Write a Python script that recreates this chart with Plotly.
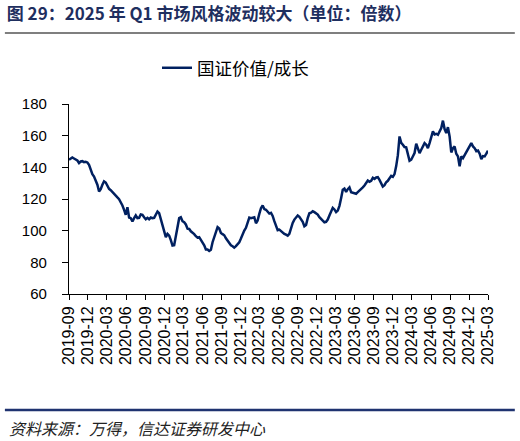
import pandas as pd
import plotly.graph_objects as go

# 国证价值/成长 比值，按图上读数，每 8 天一个点（2019-09-01 ~ 2025-03-01）
ratio = [
    144.8, 145.8, 146.2, 145.6, 145.0, 144.3, 142.7, 143.7, 143.9, 143.3,
    143.5, 143.1, 141.6, 138.4, 135.7, 134.2, 132.1, 129.0, 124.7, 126.2,
    129.0, 131.1, 130.4, 127.9, 126.4, 125.6, 124.3, 123.1, 122.0, 121.0,
    119.9, 118.2, 115.9, 113.1, 110.0, 114.8, 108.3, 107.9, 105.8, 107.9,
    109.6, 107.9, 108.1, 110.2, 110.0, 108.5, 107.2, 108.1, 107.2, 108.3,
    107.9, 108.1, 110.2, 112.1, 111.0, 107.4, 103.9, 100.1, 95.9, 98.0,
    96.9, 94.0, 90.6, 90.8, 95.9, 103.0, 107.9, 108.5, 106.0, 105.3,
    103.9, 101.3, 101.1, 99.6, 98.8, 97.8, 96.5, 95.6, 95.9, 94.4,
    92.5, 90.8, 88.1, 88.1, 87.2, 87.9, 92.7, 95.9, 99.4, 102.2,
    101.3, 98.6, 97.8, 97.1, 95.2, 93.8, 92.3, 90.8, 90.2, 89.3,
    90.2, 91.6, 92.7, 95.0, 98.2, 100.1, 101.8, 104.5, 108.3, 107.9,
    108.1, 108.5, 104.7, 106.4, 110.6, 114.2, 115.9, 113.6, 113.2, 111.7,
    110.8, 111.2, 109.3, 106.0, 102.8, 100.3, 100.7, 99.6, 98.6, 98.0,
    97.5, 96.9, 98.0, 102.0, 104.9, 107.0, 108.5, 109.6, 108.7, 107.2,
    105.6, 102.8, 103.6, 107.9, 111.0, 111.4, 112.3, 111.7, 111.2, 110.2,
    108.5, 107.2, 106.2, 105.3, 105.6, 107.0, 109.6, 112.1, 114.4, 113.4,
    111.7, 112.7, 115.7, 120.5, 125.8, 126.6, 124.5, 126.2, 127.3, 124.3,
    123.9, 123.5, 123.3, 124.3, 125.2, 125.8, 127.3, 128.5, 130.2, 131.7,
    130.9, 131.5, 133.4, 132.7, 133.6, 133.8, 132.1, 130.0, 127.9, 128.7,
    130.6, 131.5, 133.0, 134.6, 134.0, 135.7, 140.8, 147.7, 159.5, 155.5,
    154.3, 152.8, 152.6, 148.1, 144.1, 144.8, 146.9, 149.0, 154.9, 151.5,
    149.0, 151.1, 153.6, 155.3, 154.3, 152.1, 155.3, 159.5, 162.7, 160.8,
    161.2, 160.6, 162.9, 164.8, 169.5, 164.2, 161.6, 165.4, 159.5, 149.4,
    152.1, 153.2, 148.6, 146.9, 140.6, 146.9, 145.8, 147.9, 149.4, 151.1,
    153.2, 155.3, 153.2, 152.1, 150.2, 150.6, 148.6, 145.2, 147.1, 146.9,
    148.6, 150.5,
]
dates = pd.date_range("2019-09-01", periods=len(ratio), freq="8D")

tick_labels = [
    "2019-09", "2019-12", "2020-03", "2020-06", "2020-09", "2020-12",
    "2021-03", "2021-06", "2021-09", "2021-12", "2022-03", "2022-06",
    "2022-09", "2022-12", "2023-03", "2023-06", "2023-09", "2023-12",
    "2024-03", "2024-06", "2024-09", "2024-12", "2025-03",
]
y_ticks = [60, 80, 100, 120, 140, 160, 180]

NAVY = "#002060"
CJK = "Noto Sans CJK SC"

fig = go.Figure()
fig.add_trace(go.Scatter(x=dates, y=ratio, mode="lines", name="国证价值/成长",
                         line=dict(color=NAVY, width=2.5)))

fig.update_xaxes(
    type="date",
    range=[tick_labels[0] + "-01", tick_labels[-1] + "-01"],
    tickvals=[t + "-01" for t in tick_labels],
    ticktext=tick_labels,
    tickangle=-90,
    ticks="outside", ticklen=5, tickcolor="black",
    showline=True, linecolor="black", linewidth=1,
    showgrid=False, zeroline=False,
    tickfont=dict(family="Liberation Sans, Arial", size=16, color="black"),
)
fig.update_yaxes(
    range=[60, 180],
    tickvals=y_ticks,
    ticks="outside", ticklen=6, tickcolor="black",
    ticklabelstandoff=12,
    showline=True, linecolor="black", linewidth=1.2,
    showgrid=False, zeroline=False,
    tickfont=dict(family="Liberation Sans, Arial", size=15, color="black"),
)

# 标题下分隔线、底部线、资料来源
fig.add_shape(type="line", xref="paper", yref="paper", x0=-0.153, x1=1.064,
              y0=1.374, y1=1.374, line=dict(color="#555555", width=1.5))
fig.add_shape(type="line", xref="paper", yref="paper", x0=-0.153, x1=1.064,
              y0=-0.61, y1=-0.61, line=dict(color="#1F3370", width=2.5))
fig.add_annotation(text="资料来源：万得，信达证券研发中心", xref="paper", yref="paper",
                   x=-0.148, y=-0.705, xanchor="left", yanchor="middle", showarrow=False,
                   font=dict(family=CJK, size=16, color="#222222", style="italic"))

fig.update_layout(
    width=520, height=441,
    margin=dict(l=69, r=32, t=104, b=147),
    paper_bgcolor="white", plot_bgcolor="white",
    title=dict(text="<b>图 29：2025 年 Q1 市场风格波动较大（单位：倍数）</b>",
               x=0.013, xref="container", xanchor="left",
               y=0.968, yref="container", yanchor="middle",
               font=dict(family=CJK, size=17, color="#1F2F5F")),
    showlegend=True,
    legend=dict(orientation="h", x=0.21, xanchor="left", y=1.19, yanchor="middle",
                font=dict(family=CJK, size=17.5, color="black"),
                bgcolor="rgba(0,0,0,0)"),
)

# 去掉浏览器默认的 body 边距，不显示工具栏
fig.write_html("out.html", config={"displayModeBar": False},
               post_script="document.body.style.margin='0';")
